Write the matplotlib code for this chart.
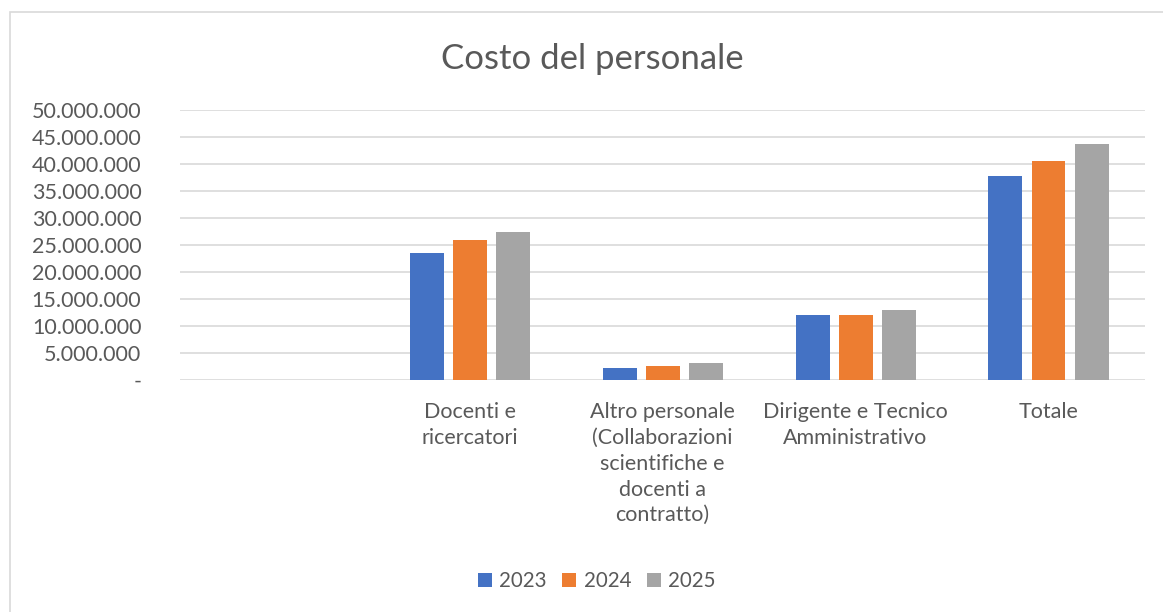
import numpy as np
import matplotlib.pyplot as plt
from matplotlib.ticker import FuncFormatter
from matplotlib.patches import Rectangle

plt.rcParams['font.family'] = ['Lato', 'DejaVu Sans']

categories = ["", "Docenti e\nricercatori",
              "Altro personale\n(Collaborazioni\nscientifiche e\ndocenti a\ncontratto)",
              "Dirigente e Tecnico\nAmministrativo", "Totale"]
years = ["2023", "2024", "2025"]
v2023 = [np.nan, 23.5e6, 2.3e6, 12.0e6, 37.8e6]
v2024 = [np.nan, 25.9e6, 2.6e6, 12.1e6, 40.65e6]
v2025 = [np.nan, 27.5e6, 3.15e6, 12.95e6, 43.75e6]
colors = ["#4472C4", "#ED7D31", "#A5A5A5"]
txt = "#595959"
grid = "#D9D9D9"

fig = plt.figure(figsize=(11.63, 6.12), dpi=100)
ax = fig.add_axes([0.155, 0.379, 0.8295, 0.441])

x = np.arange(len(categories))
w, step = 0.176, 0.223
for i, (vals, c, lab) in enumerate(zip([v2023, v2024, v2025], colors, years)):
    ax.bar(x + (i - 1) * step, vals, w, color=c, label=lab, zorder=3)

ax.set_xlim(-0.5, len(categories) - 0.5)
ax.set_ylim(0, 50e6)
ax.set_yticks(np.arange(0, 50e6 + 1, 5e6))
ax.yaxis.set_major_formatter(FuncFormatter(
    lambda v, p: "-" if v == 0 else f"{v:,.0f}".replace(",", ".")))
ax.grid(axis='y', color=grid, lw=1.2, zorder=0)
for s in ax.spines.values():
    s.set_visible(False)
ax.tick_params(axis='both', length=0, colors=txt, labelsize=15.5)
ax.tick_params(axis='y', pad=28)
ax.tick_params(axis='x', pad=16)
ax.set_xticks(x)
ax.set_xticklabels(categories, linespacing=1.36)

fig.text(0.509, 0.903, "Costo del personale", ha='center', va='center',
         fontsize=25, color=txt)

leg = fig.legend(loc='center', bbox_to_anchor=(0.513, 0.05), ncol=3,
                 frameon=False, fontsize=14.8, handlelength=0.7, handleheight=0.7,
                 handletextpad=0.35, columnspacing=0.75)
for t in leg.get_texts():
    t.set_color(txt)

fig.patches.append(Rectangle((10 / 1163, -0.01), 1.02, 1 - 12 / 612 + 0.01,
                             transform=fig.transFigure, fill=False,
                             edgecolor=grid, lw=1.2))

fig.savefig("out.png", dpi=100)
